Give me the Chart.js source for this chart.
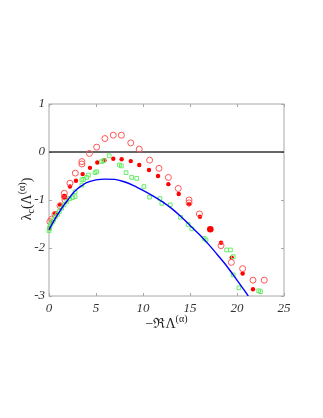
<!DOCTYPE html>
<html>
<head>
<meta charset="utf-8">
<script src="https://cdn.jsdelivr.net/npm/chart.js@4/dist/chart.umd.min.js"></script>
<style>
  body { margin: 0; background: #fff; }
  #wrap { width: 323px; height: 418px; }
</style>
</head>
<body>
<div id="wrap"><canvas id="lyap"></canvas></div>
<script>
// tick values
const xTicks = [0, 5, 10, 15, 20, 25];
const yTicks = [-3, -2, -1, 0, 1];

// blue curve
const curveX = [0, 0.5, 1, 1.5, 2, 2.5, 3, 3.5, 4, 5, 6, 7, 8, 9, 10, 11, 12, 13, 14, 15, 16, 17, 18, 19, 20, 21.2];
const curveY = [-1.62, -1.44, -1.28, -1.13, -1.0, -0.87, -0.77, -0.7, -0.64, -0.58, -0.565, -0.57, -0.62, -0.7, -0.8, -0.91, -1.03, -1.17, -1.34, -1.53, -1.72, -1.93, -2.16, -2.4, -2.67, -3.0];

// red open circles
const openX = [0.1, 0.28, 0.64, 1.17, 1.63, 1.7, 2.23, 2.8, 3.5, 3.5, 4.3, 5.07, 5.95, 6.84, 7.7, 8.7, 9.6, 10.7, 11.7, 12.7, 13.75, 14.9, 14.9, 16.0, 18.3, 19.4, 20.6, 21.7, 22.9];
const openY = [-1.45, -1.4, -1.3, -1.12, -0.86, -1.0, -0.65, -0.44, -0.2, -0.25, -0.03, 0.1, 0.28, 0.35, 0.35, 0.19, 0.06, -0.17, -0.34, -0.53, -0.76, -1.0, -1.06, -1.29, -1.95, -2.3, -2.43, -2.67, -2.67];

// red filled dots
const fillX = [0.03, 0.3, 0.64, 1.17, 1.63, 2.23, 2.87, 3.58, 4.36, 5.14, 5.9, 6.84, 7.73, 8.7, 9.6, 10.64, 11.6, 12.7, 13.8, 14.9, 16.06, 17.16, 18.3, 19.44, 20.6, 21.7];
const fillY = [-1.59, -1.45, -1.28, -1.1, -0.93, -0.72, -0.6, -0.46, -0.33, -0.22, -0.17, -0.14, -0.15, -0.19, -0.27, -0.375, -0.5, -0.67, -0.875, -1.09, -1.35, -1.61, -1.89, -2.2, -2.53, -2.86];
const fillR = [2.2, 2.2, 2.2, 2.2, 3, 2.2, 2.2, 2.2, 2.2, 2.2, 2.2, 2.2, 2.2, 2.2, 2.2, 2.2, 2.2, 2.2, 2.2, 2.2, 2.2, 3.3, 2.2, 2.2, 2.2, 2.2];

// green open squares
const sqX = [0.0, 0.05, 0.1, 0.2, 0.35, 0.5, 0.7, 0.9, 1.1, 1.35, 1.6, 1.9, 2.2, 2.5, 2.77, 2.77, 3.5, 3.5, 3.7, 4.0, 4.2, 4.9, 5.07, 5.6, 5.8, 6.4, 7.5, 7.7, 8.2, 8.8, 9.33, 10.1, 10.7, 11.8, 12.0, 12.9, 14.0, 14.8, 15.2, 16.5, 16.7, 18.9, 19.3, 19.6, 19.6, 20.2, 22.3, 22.5];
const sqY = [-1.64, -1.6, -1.55, -1.5, -1.46, -1.41, -1.35, -1.3, -1.24, -1.17, -1.1, -1.03, -0.97, -0.95, -0.93, -0.83, -0.69, -0.58, -0.57, -0.53, -0.48, -0.43, -0.41, -0.2, -0.18, -0.08, -0.27, -0.29, -0.43, -0.53, -0.55, -0.72, -0.94, -0.97, -1.07, -1.1, -1.36, -1.51, -1.6, -1.8, -1.83, -2.04, -2.04, -2.18, -2.56, -2.83, -2.89, -2.91];

const pts = (xs, ys) => xs.map((v, i) => ({ x: v, y: ys[i] }));

const serif = "'Liberation Serif', 'DejaVu Serif', serif";

// box, inward ticks and the zero line
const frame = {
  id: 'frame',
  beforeDatasetsDraw(chart) {
    const { ctx, chartArea: a, scales } = chart;
    const sx = scales.x, sy = scales.y;
    ctx.save();
    ctx.strokeStyle = '#a8a8a8';
    ctx.lineWidth = 1;
    ctx.strokeRect(a.left, a.top, a.right - a.left, a.bottom - a.top);
    ctx.beginPath();
    xTicks.forEach(t => {
      const px = Math.round(sx.getPixelForValue(t)) + 0.5;
      ctx.moveTo(px, a.bottom); ctx.lineTo(px, a.bottom - 3);
      ctx.moveTo(px, a.top); ctx.lineTo(px, a.top + 3);
    });
    yTicks.forEach(t => {
      const py = Math.round(sy.getPixelForValue(t)) + 0.5;
      ctx.moveTo(a.left, py); ctx.lineTo(a.left + 3, py);
      ctx.moveTo(a.right, py); ctx.lineTo(a.right - 3, py);
    });
    ctx.stroke();
    // zero line
    const z = sy.getPixelForValue(0);
    ctx.strokeStyle = '#333';
    ctx.lineWidth = 1.5;
    ctx.beginPath();
    ctx.moveTo(a.left, z); ctx.lineTo(a.right, z);
    ctx.stroke();
    ctx.restore();
  },
  afterDraw(chart) {
    const { ctx, chartArea: a } = chart;
    ctx.save();
    ctx.fillStyle = '#222';
    ctx.textBaseline = 'alphabetic';
    const big = '14px ' + serif, small = '10px ' + serif;
    // x title: −ℜΛ^(α)
    const xparts = [['\u2212\u211c\u039b', big, 0], ['(\u03b1)', small, -6]];
    drawParts(ctx, xparts, (a.left + a.right) / 2, 328);
    // y title: λ_c(Λ^(α))
    ctx.translate(26, 199);
    ctx.rotate(-Math.PI / 2);
    const yparts = [['\u03bb', big, 0], ['c', small, 3], ['(\u039b', big, 0], ['(\u03b1)', small, -6], [')', big, 0]];
    drawParts(ctx, yparts, 0, 5);
    ctx.restore();
  }
};

function drawParts(ctx, parts, cx, base) {
  let w = 0;
  parts.forEach(p => { ctx.font = p[1]; w += ctx.measureText(p[0]).width; });
  let x = cx - w / 2;
  parts.forEach(p => {
    ctx.font = p[1];
    ctx.fillText(p[0], x, base + p[2]);
    x += ctx.measureText(p[0]).width;
  });
}

const ctx = document.getElementById('lyap').getContext('2d');
new Chart(ctx, {
  type: 'scatter',
  data: {
    datasets: [
      {
        label: 'curve',
        type: 'line',
        data: pts(curveX, curveY),
        borderColor: '#0000ff',
        borderWidth: 1.4,
        pointRadius: 0,
        cubicInterpolationMode: 'monotone',
        fill: false
      },
      {
        label: 'squares',
        data: pts(sqX, sqY),
        pointStyle: 'rect',
        pointRadius: 2.6,
        borderColor: '#66ee66',
        backgroundColor: 'rgba(0,0,0,0)',
        borderWidth: 1,
        clip: false
      },
      {
        label: 'open',
        data: pts(openX, openY),
        pointStyle: 'circle',
        pointRadius: 3,
        borderColor: '#ff5555',
        backgroundColor: 'rgba(0,0,0,0)',
        borderWidth: 1,
        clip: false
      },
      {
        label: 'filled',
        data: pts(fillX, fillY),
        pointStyle: 'circle',
        pointRadius: fillR,
        borderColor: '#ff0000',
        backgroundColor: '#ff0000',
        borderWidth: 0,
        clip: false
      }
    ]
  },
  options: {
    responsive: true,
    maintainAspectRatio: false,
    animation: false,
    events: [],
    layout: { padding: { left: 0, top: 104, right: 39, bottom: 92 } },
    plugins: { legend: { display: false }, tooltip: { enabled: false } },
    scales: {
      x: {
        type: 'linear',
        min: 0, max: 25,
        afterBuildTicks: s => { s.ticks = xTicks.map(v => ({ value: v })); },
        afterFit: s => { s.height = 30; },
        grid: { display: false, drawTicks: false },
        border: { display: false },
        ticks: { color: '#333', padding: 5, font: { family: serif, size: 13, style: 'italic' } }
      },
      y: {
        type: 'linear',
        min: -3, max: 1,
        afterBuildTicks: s => { s.ticks = yTicks.map(v => ({ value: v })); },
        afterFit: s => { s.width = 49; },
        grid: { display: false, drawTicks: false },
        border: { display: false },
        ticks: { color: '#333', padding: 4, font: { family: serif, size: 13, style: 'italic' } }
      }
    }
  },
  plugins: [frame]
});
</script>
</body>
</html>
